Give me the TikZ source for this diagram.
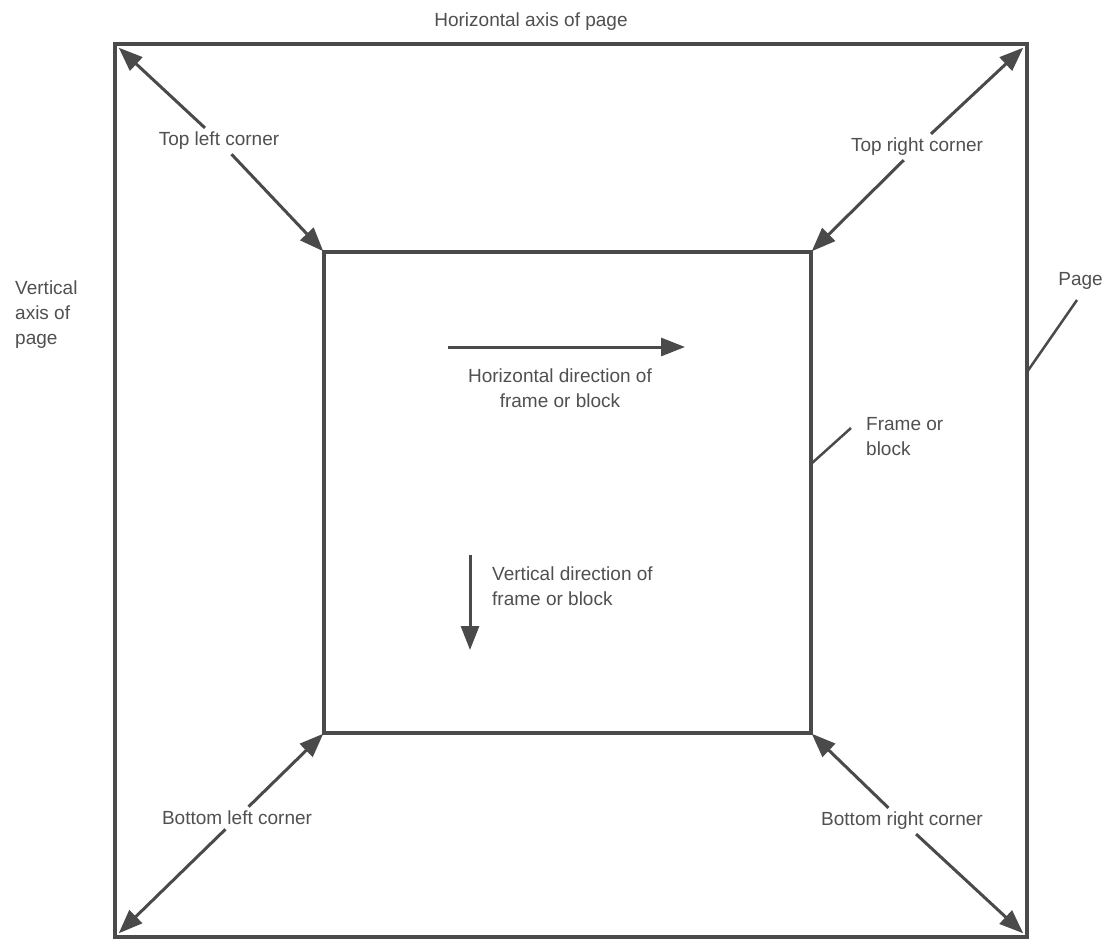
\documentclass[tikz,border=0pt]{standalone}
\usepackage{fontspec}
\setmainfont{Liberation Sans}
\usetikzlibrary{arrows.meta}
\definecolor{ink}{HTML}{4A4A4A}
\definecolor{txt}{HTML}{505050}
\begin{document}
\begin{tikzpicture}[x=1pt,y=-1pt,
  boxline/.style={draw=ink,line width=4pt},
  ptr/.style={draw=ink,line width=3pt,-{Triangle[length=24pt,width=18pt]},shorten >=1pt},
  cptr/.style={ptr,shorten <=3pt},
  leader/.style={draw=ink,line width=2.5pt},
  lbl/.style={text=txt,font=\fontsize{19}{25}\selectfont,inner sep=2pt}]
\useasboundingbox (0,0) rectangle (1105,941);
\fill[white] (0,0) rectangle (1105,941);
% corners
\coordinate (otl) at (115,44);
\coordinate (otr) at (1027,44);
\coordinate (obr) at (1027,937);
\coordinate (obl) at (115,937);
\coordinate (itl) at (324,252);
\coordinate (itr) at (811,252);
\coordinate (ibr) at (811,733);
\coordinate (ibl) at (324,733);
% rectangles
\draw[boxline] (otl) -- (otr) -- (obr) -- (obl) -- cycle;
\draw[boxline] (itl) -- (itr) -- (ibr) -- (ibl) -- cycle;
% labels
\node[lbl] (haxis) at (531,22) {Horizontal axis of page};
\node[lbl,align=left,anchor=west] (vaxis) at (13,315) {Vertical\\axis of\\page};
\node[lbl,anchor=east,inner sep=1pt] (pagelbl) at (1104,281) {Page};
\node[lbl,align=left,anchor=west] (frame) at (864,437) {Frame or\\block};
\node[lbl] (tlc) at (219,141) {Top left corner};
\node[lbl] (trc) at (917,147) {Top right corner};
\node[lbl] (blc) at (237,818) {Bottom left corner};
\node[lbl] (brc) at (902,821) {Bottom right corner};
\node[lbl,align=center] (hdir) at (560,388) {Horizontal direction of\\frame or block};
\node[lbl,align=left,anchor=west] (vdir) at (490,586) {Vertical direction of\\frame or block};
% corner arrows
\draw[cptr] (tlc) -- ([shift={(3,3)}]otl);
\draw[cptr] (tlc) -- (itl);
\draw[cptr] (trc) -- ([shift={(-3,3)}]otr);
\draw[cptr] (trc) -- (itr);
\draw[cptr] (blc) -- (ibl);
\draw[cptr] (blc) -- ([shift={(3,-3)}]obl);
\draw[cptr] (brc) -- (ibr);
\draw[cptr] (brc) -- ([shift={(-3,-3)}]obr);
% direction arrows
\coordinate (h1) at (448,347);
\coordinate (h2) at (686,347);
\coordinate (v1) at (470,555);
\coordinate (v2) at (470,651);
\draw[ptr] (h1) -- (h2);
\draw[ptr] (v1) -- (v2);
% leaders
\coordinate (pl1) at (1077,300);
\coordinate (pl2) at (1027,372);
\draw[leader] (pl1) -- (pl2);
\coordinate (fl1) at (851,428);
\coordinate (fl2) at (811,464);
\draw[leader] (fl1) -- (fl2);
\end{tikzpicture}
\end{document}
